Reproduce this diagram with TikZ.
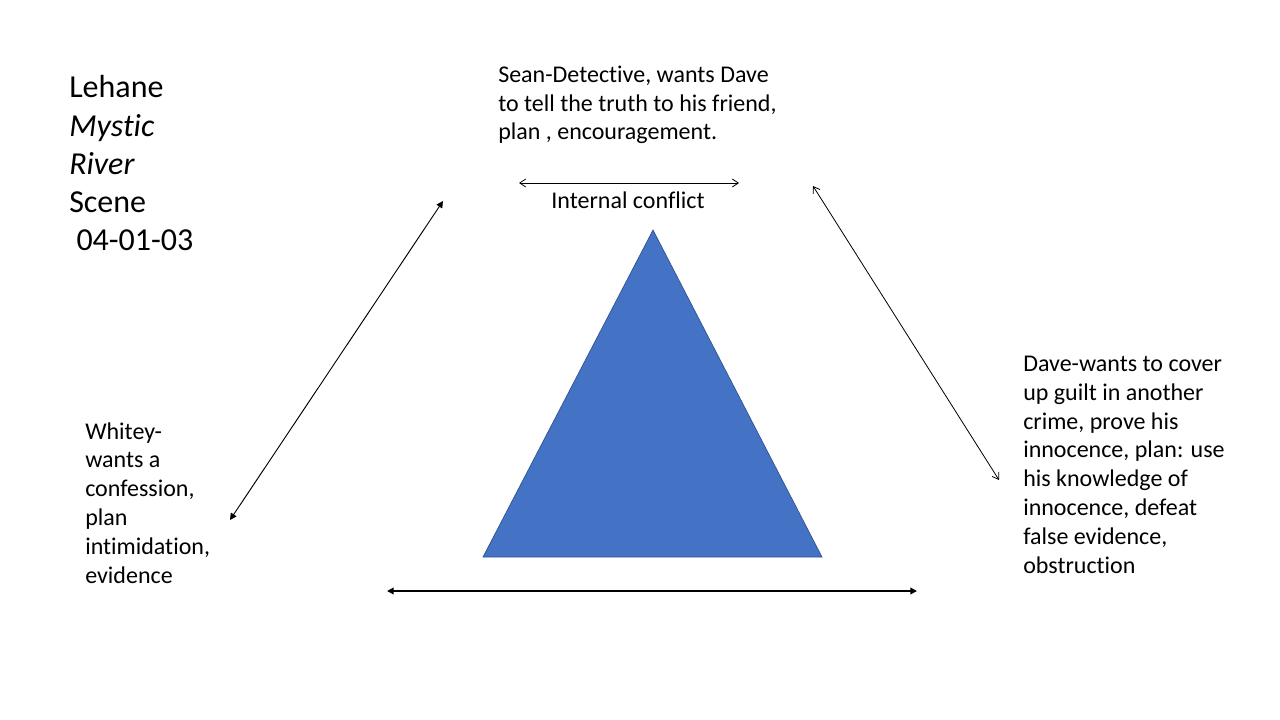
\documentclass[tikz,border=0pt]{standalone}
\usepackage{fontspec}
\setmainfont{Carlito}[Ligatures=NoCommon]
\usetikzlibrary{arrows.meta}
\usetikzlibrary{positioning}
\definecolor{slideblue}{HTML}{4472C4}
\definecolor{slideedge}{HTML}{2F528F}
\tikzset{open tips/.style = {{Straight Barb[length=4.5pt,width=6pt]}-{Straight Barb[length=4.5pt,width=6pt]},
                             line width=0.6pt},
         solid tips/.style = {{Triangle[length=5pt,width=5pt]}-{Triangle[length=5pt,width=5pt]},
                              line width=0.7pt},
         bigtext/.style = {anchor=base west, inner sep=0pt, align=left,
                           font=\fontsize{24}{28.7}\selectfont},
         smalltext/.style = {anchor=base west, inner sep=0pt, align=left,
                             font=\fontsize{18}{21.6}\selectfont}}

\begin{document}
\begin{tikzpicture}[x=0.75pt, y=-0.75pt]
    \useasboundingbox (0, 0) rectangle (1280, 720);

    % multi-line nodes sit on the baseline of their last line
    \node [bigtext] (title) at (69, 251) {Lehane\\\textit{Mystic}\\\textit{River}\\Scene\\\ 04-01-03};

    \node [smalltext] (sean) at (498, 140) {Sean-Detective, wants Dave\\to tell the truth to his friend,\\plan , encouragement.};
    \node [smalltext] (whitey) at (85, 583) {Whitey-\\wants a\\confession,\\plan\\intimidation,\\evidence};
    \node [smalltext] (dave) at (1023, 573) {Dave-wants to cover\\up guilt in another\\crime, prove his\\innocence, plan: use\\his knowledge of\\innocence, defeat\\false evidence,\\obstruction};

    \coordinate (inner left) at (519, 183);
    \coordinate (inner right) at (739, 183);
    \draw [open tips] (inner left) -- (inner right);
    \node [smalltext, anchor=base] (inner) at (628, 209) {Internal conflict};

    \coordinate (left low) at (230, 520);
    \coordinate (left high) at (443, 201);
    \draw [solid tips] (left low) -- (left high);

    \coordinate (right high) at (813, 186);
    \coordinate (right low) at (999, 480);
    \draw [open tips] (right high) -- (right low);

    \coordinate (base left) at (387, 591);
    \coordinate (base right) at (917, 591);
    \draw [solid tips, line width=1.1pt] (base left) -- (base right);

    \draw [fill=slideblue, draw=slideedge, line width=0.5pt]
        (653, 230) -- (822, 557) -- (483, 557) -- cycle;
\end{tikzpicture}
\end{document}
